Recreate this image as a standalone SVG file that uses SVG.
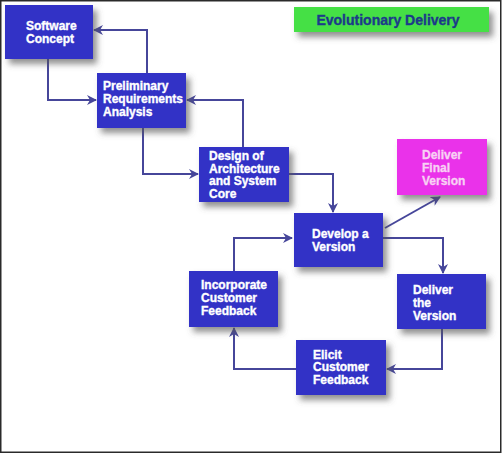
<svg xmlns="http://www.w3.org/2000/svg" width="502" height="454" viewBox="0 0 502 454">
<defs>
<filter id="sh" x="-20%" y="-20%" width="150%" height="170%">
<feDropShadow dx="4" dy="5" stdDeviation="3" flood-color="#555" flood-opacity="0.65"/>
</filter>
<marker id="ah" viewBox="0 0 10 10" refX="9" refY="5" markerWidth="5" markerHeight="5" orient="auto">
<path d="M0,0 L10,5 L0,10 L3,5 Z" fill="#46469a"/>
</marker>
<style>
.box{fill:#3131c6;filter:url(#sh);}
.mag{fill:#ea30ea;filter:url(#sh);}
.grn{fill:#44e044;filter:url(#sh);}
.t{font-family:"Liberation Sans",Arial,sans-serif;font-weight:bold;font-size:12px;fill:#ffffff;stroke:#ffffff;stroke-width:0.35px;}
.tp{font-family:"Liberation Sans",Arial,sans-serif;font-weight:bold;font-size:12px;fill:#f8d0f4;stroke:#f8d0f4;stroke-width:0.35px;}
.c{fill:none;stroke:#46469a;stroke-width:2;marker-end:url(#ah);}
</style>
</defs>
<rect x="0" y="0" width="502" height="454" fill="#ffffff"/>
<rect x="0.75" y="0.75" width="500" height="451.5" fill="none" stroke="#2a2a2a" stroke-width="1.5"/>
<g id="connectors">
<path class="c" d="M147,73 V30 H94"/>
<path class="c" d="M48,59 V100 H96"/>
<path class="c" d="M243,147 V100 H187"/>
<path class="c" d="M143,128 V174 H198"/>
<path class="c" d="M289,174 H333 V212"/>
<path class="c" d="M385,228 L440,197"/>
<path class="c" d="M383,238 H443 V273"/>
<path class="c" d="M442,329 V369 H387"/>
<path class="c" d="M296,369 H234 V328"/>
<path class="c" d="M234,271 V238 H292"/>
</g>
<g id="title">
<rect class="grn" x="294" y="7" width="195" height="25"/>
<text x="388" y="24.5" text-anchor="middle" font-family="Liberation Sans, Arial, sans-serif" font-weight="bold" font-size="14" fill="#1c3a8a" stroke="#1c3a8a" stroke-width="0.35">Evolutionary Delivery</text>
</g>
<g id="software-concept">
<rect class="box" x="5" y="5" width="88" height="54"/>
<text class="t" x="26" y="30">Software</text>
<text class="t" x="26" y="42.5">Concept</text>
</g>
<g id="preliminary-requirements">
<rect class="box" x="97" y="73" width="89" height="55"/>
<text class="t" x="103" y="90">Preliminary</text>
<text class="t" x="103" y="103">Requirements</text>
<text class="t" x="103" y="116">Analysis</text>
</g>
<g id="design">
<rect class="box" x="199" y="147" width="90" height="55"/>
<text class="t" x="209" y="159.5">Design of</text>
<text class="t" x="209" y="172.5">Architecture</text>
<text class="t" x="209" y="185">and System</text>
<text class="t" x="209" y="198">Core</text>
</g>
<g id="develop">
<rect class="box" x="294" y="213" width="89" height="54"/>
<text class="t" x="312" y="238">Develop a</text>
<text class="t" x="312" y="251">Version</text>
</g>
<g id="deliver-final">
<rect class="mag" x="397" y="139" width="90" height="56"/>
<text class="tp" x="422" y="159">Deliver</text>
<text class="tp" x="422" y="172">Final</text>
<text class="tp" x="422" y="184.5">Version</text>
</g>
<g id="deliver-version">
<rect class="box" x="397" y="274" width="89" height="55"/>
<text class="t" x="413" y="294">Deliver</text>
<text class="t" x="413" y="307">the</text>
<text class="t" x="413" y="319.5">Version</text>
</g>
<g id="elicit">
<rect class="box" x="296" y="340" width="90" height="55"/>
<text class="t" x="313" y="358.5">Elicit</text>
<text class="t" x="313" y="371">Customer</text>
<text class="t" x="313" y="383.5">Feedback</text>
</g>
<g id="incorporate">
<rect class="box" x="189" y="271" width="89" height="56"/>
<text class="t" x="201" y="289">Incorporate</text>
<text class="t" x="201" y="302">Customer</text>
<text class="t" x="201" y="315">Feedback</text>
</g>
</svg>
